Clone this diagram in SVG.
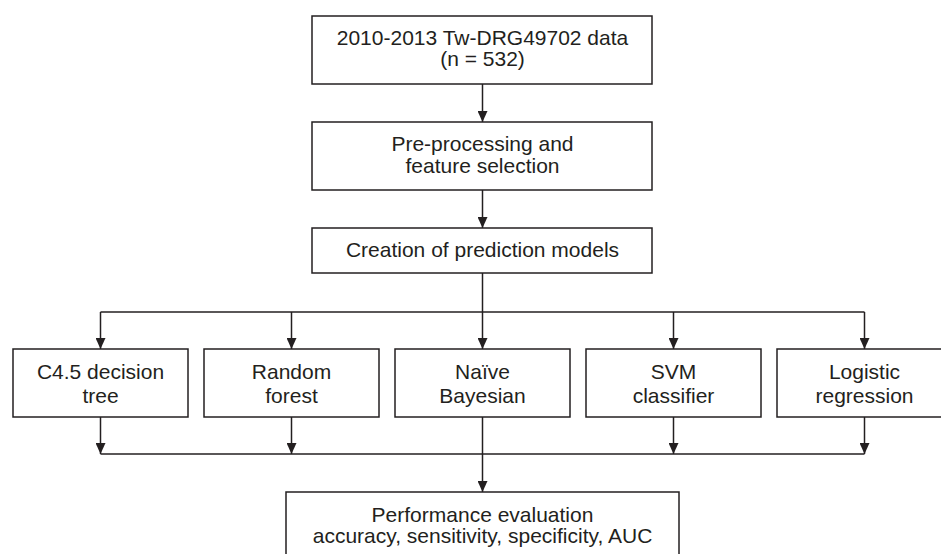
<svg xmlns="http://www.w3.org/2000/svg" width="941" height="554" viewBox="0 0 941 554">
  <defs>
    <marker id="arrow" markerWidth="11" markerHeight="10" refX="11" refY="5" orient="auto" markerUnits="userSpaceOnUse">
      <path d="M0,0 L11,5 L0,10 Z" fill="#231f20"/>
    </marker>
    <style>
      .box { fill: #ffffff; stroke: #231f20; stroke-width: 1.5; }
      .lbl { font-family: "Liberation Sans", Arial, sans-serif; font-size: 21px; fill: #231f20; text-anchor: middle; }
      .wire { fill: none; stroke: #231f20; stroke-width: 1.5; }
      .arr { marker-end: url(#arrow); }
    </style>
  </defs>
  <rect width="941" height="554" fill="#ffffff"/>

  <g id="connectors">
    <line class="wire arr" x1="482.5" y1="84" x2="482.5" y2="122"/>
    <line class="wire arr" x1="482.5" y1="190" x2="482.5" y2="228"/>
    <line class="wire" x1="482.5" y1="273" x2="482.5" y2="312"/>
    <line class="wire" x1="100.5" y1="312" x2="864.5" y2="312"/>
    <line class="wire arr" x1="100.5" y1="312" x2="100.5" y2="349"/>
    <line class="wire arr" x1="291.5" y1="312" x2="291.5" y2="349"/>
    <line class="wire arr" x1="482.5" y1="312" x2="482.5" y2="349"/>
    <line class="wire arr" x1="673.5" y1="312" x2="673.5" y2="349"/>
    <line class="wire arr" x1="864.5" y1="312" x2="864.5" y2="349"/>
    <line class="wire arr" x1="100.5" y1="417" x2="100.5" y2="454"/>
    <line class="wire arr" x1="291.5" y1="417" x2="291.5" y2="454"/>
    <line class="wire arr" x1="673.5" y1="417" x2="673.5" y2="454"/>
    <line class="wire arr" x1="864.5" y1="417" x2="864.5" y2="454"/>
    <line class="wire" x1="100.5" y1="454" x2="864.5" y2="454"/>
    <line class="wire arr" x1="482.5" y1="417" x2="482.5" y2="492"/>
  </g>

  <g id="data">
    <rect class="box" x="312" y="16" width="340" height="68"/>
    <text class="lbl" x="482.5" y="45">2010-2013 Tw-DRG49702 data</text>
    <text class="lbl" x="482.5" y="66">(n = 532)</text>
  </g>

  <g id="preprocessing">
    <rect class="box" x="312" y="122" width="340" height="68"/>
    <text class="lbl" x="482.5" y="151">Pre-processing and</text>
    <text class="lbl" x="482.5" y="173">feature selection</text>
  </g>

  <g id="creation">
    <rect class="box" x="312" y="228" width="340" height="45"/>
    <text class="lbl" x="482.5" y="257">Creation of prediction models</text>
  </g>

  <g id="c45">
    <rect class="box" x="13" y="349" width="175" height="68"/>
    <text class="lbl" x="100.5" y="379">C4.5 decision</text>
    <text class="lbl" x="100.5" y="403">tree</text>
  </g>

  <g id="randomforest">
    <rect class="box" x="204" y="349" width="175" height="68"/>
    <text class="lbl" x="291.5" y="379">Random</text>
    <text class="lbl" x="291.5" y="403">forest</text>
  </g>

  <g id="naivebayes">
    <rect class="box" x="395" y="349" width="175" height="68"/>
    <text class="lbl" x="482.5" y="379">Naïve</text>
    <text class="lbl" x="482.5" y="403">Bayesian</text>
  </g>

  <g id="svm">
    <rect class="box" x="586" y="349" width="175" height="68"/>
    <text class="lbl" x="673.5" y="379">SVM</text>
    <text class="lbl" x="673.5" y="403">classifier</text>
  </g>

  <g id="logistic">
    <rect class="box" x="777" y="349" width="175" height="68"/>
    <text class="lbl" x="864.5" y="379">Logistic</text>
    <text class="lbl" x="864.5" y="403">regression</text>
  </g>

  <g id="performance">
    <rect class="box" x="286" y="492" width="393" height="80"/>
    <text class="lbl" x="482.5" y="522">Performance evaluation</text>
    <text class="lbl" x="482.5" y="543">accuracy, sensitivity, specificity, AUC</text>
  </g>
</svg>
